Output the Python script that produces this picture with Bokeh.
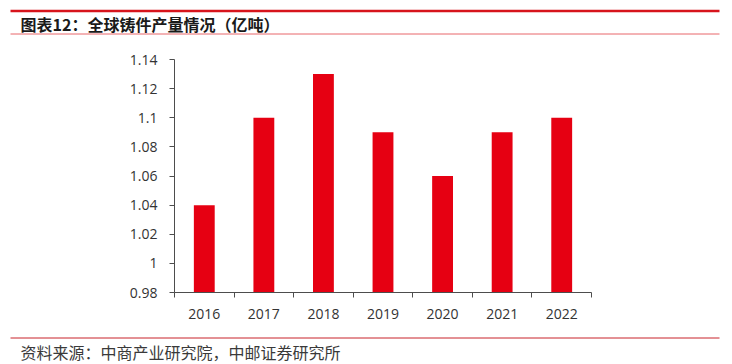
from bokeh.plotting import figure
from bokeh.layouts import column, row
from bokeh.models import FixedTicker, Range1d, Label
from bokeh.embed import file_html
from bokeh.resources import INLINE

years = ["2016", "2017", "2018", "2019", "2020", "2021", "2022"]
output = [1.04, 1.10, 1.13, 1.09, 1.06, 1.09, 1.10]
y_ticks = [0.98, 1.0, 1.02, 1.04, 1.06, 1.08, 1.10, 1.12, 1.14]
y_labels = ["0.98", "1", "1.02", "1.04", "1.06", "1.08", "1.1", "1.12", "1.14"]
title_text = "图表12：全球铸件产量情况（亿吨）"
source_text = "资料来源：中商产业研究院，中邮证券研究所"

W = 732
HH, MH, FH = 40, 296, 28  # header / main / footer heights


def blank(h):
    f = figure(width=W, height=h, output_backend="svg", toolbar_location=None,
               x_range=Range1d(0, W), y_range=Range1d(h, 0),
               x_axis_type=None, y_axis_type=None,
               min_border=0, min_border_left=0, min_border_right=0,
               min_border_top=0, min_border_bottom=0)
    f.outline_line_color = None
    f.xgrid.grid_line_color = None
    f.ygrid.grid_line_color = None
    return f


# header
hdr = blank(HH)
hdr.segment(x0=[10], y0=[10.5], x1=[719], y1=[10.5], line_color="#D7141C", line_width=2.5)
hdr.segment(x0=[10], y0=[33.5], x1=[719], y1=[33.5], line_color="#E8676B", line_width=1)
hdr.add_layout(Label(x=20, y=23, text=title_text,
                     text_font="Noto Sans CJK SC", text_font_size="16px", text_font_style="bold",
                     text_color="#1a1a1a", text_baseline="middle", text_align="left"))

# main chart
p = figure(width=W, height=MH, output_backend="svg", toolbar_location=None,
           x_range=Range1d(0, len(years)), y_range=Range1d(0.98, 1.14),
           min_border_left=174, min_border_top=19, min_border_bottom=44, min_border_right=141)
p.outline_line_color = None
p.xgrid.grid_line_color = None
p.ygrid.grid_line_color = None

xs = [i + 0.5 for i in range(len(years))]
p.vbar(x=xs, top=output, bottom=0.98, width=0.35, fill_color="#E60012", line_color=None)

axis_col = "#4d4d4d"
lab_col = "#333333"
font = "Open Sans"

xa = p.xaxis[0]
xa.ticker = FixedTicker(ticks=xs, minor_ticks=list(range(len(years) + 1)))
xa.major_label_overrides = {x: y for x, y in zip(xs, years)}
xa.major_tick_line_color = None
xa.major_tick_out = 0
xa.major_tick_in = 0
xa.minor_tick_in = 0
xa.minor_tick_out = 5
xa.minor_tick_line_color = axis_col
xa.axis_line_color = axis_col
xa.major_label_text_font = font
xa.major_label_text_font_size = "14px"
xa.major_label_text_color = lab_col
xa.major_label_standoff = 11

ya = p.yaxis[0]
ya.ticker = FixedTicker(ticks=y_ticks, minor_ticks=[])
ya.major_label_overrides = {t: l for t, l in zip(y_ticks, y_labels)}
ya.major_tick_in = 0
ya.major_tick_out = 5
ya.major_tick_line_color = axis_col
ya.minor_tick_line_color = None
ya.axis_line_color = axis_col
ya.major_label_text_font = font
ya.major_label_text_font_size = "14px"
ya.major_label_text_color = lab_col
ya.major_label_standoff = 12

# footer
ftr = blank(FH)
ftr.segment(x0=[10], y0=[1.5], x1=[719], y1=[1.5], line_color="#C8232A", line_width=1)
ftr.add_layout(Label(x=20, y=15.5, text=source_text,
                     text_font="Noto Sans CJK SC", text_font_size="16px",
                     text_color="#3a3a3a", text_baseline="middle", text_align="left"))

layout = column(row(hdr), row(p), row(ftr), spacing=0)
open("out.html", "w").write(file_html(layout, INLINE))
